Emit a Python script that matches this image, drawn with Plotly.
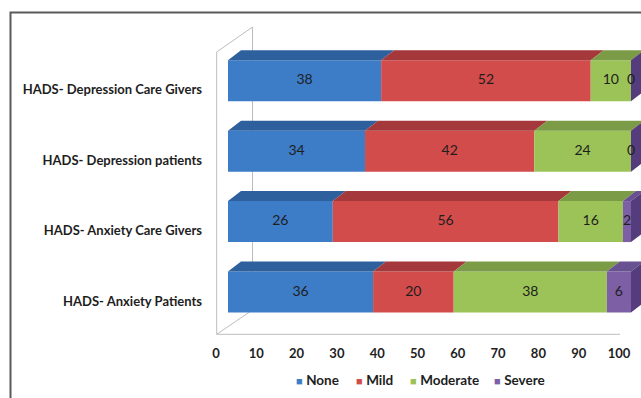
import plotly.graph_objects as go

# Categories listed bottom to top
categories = [
    "HADS- Anxiety Patients",
    "HADS- Anxiety Care Givers",
    "HADS- Depression patients",
    "HADS- Depression Care Givers",
]
series_names = ["None", "Mild", "Moderate", "Severe"]
none_vals = [36, 26, 34, 38]
mild_vals = [20, 56, 42, 52]
moderate_vals = [38, 16, 24, 10]
severe_vals = [6, 2, 0, 0]
x_ticks = [0, 10, 20, 30, 40, 50, 60, 70, 80, 90, 100]

front_colors = ["#3D7CC6", "#D24C4B", "#9CC357", "#7D5FA6"]
top_colors = ["#2F609E", "#A5383A", "#7B9B47", "#685191"]
side_color = "#553D7D"

W, H = 641, 398
# pixel geometry of the plotting area
X0_PX, X_SCALE = 228.0, 4.03        # px of value 0 and px per unit on the bar front plane
Y0_PX, Y_STEP = 292.0, 70.43        # px of first category centre, px between categories
DOM_LEFT_PX, TOP_PX, BOTTOM_PX = 206.0, 12.0, 335.0

def vx(px):
    return (px - X0_PX) / X_SCALE

def vy(py):
    return (Y0_PX - py) / Y_STEP

BAR_W = 41.0 / Y_STEP
DX = 13.0 / X_SCALE     # oblique depth offset of bar tops / sides
DY = 10.0 / Y_STEP

series = [none_vals, mild_vals, moderate_vals, severe_vals]
ypos = list(range(len(categories)))

fig = go.Figure()

# front faces of the stacked bars
bases = [0] * len(categories)
seg_bounds = []
for name, vals, col in zip(series_names, series, front_colors):
    fig.add_trace(go.Bar(
        y=ypos, x=vals, base=list(bases), orientation="h", width=BAR_W,
        marker=dict(color=col, line=dict(width=0)), name=name,
        showlegend=False, hoverinfo="skip",
    ))
    seg_bounds.append([(b, b + v) for b, v in zip(bases, vals)])
    bases = [b + v for b, v in zip(bases, vals)]

# top faces of each segment
for k, col in enumerate(top_colors):
    xs, ys = [], []
    for i, (a, b) in enumerate(seg_bounds[k]):
        if b <= a:
            continue
        t = i + BAR_W / 2
        xs += [a, b, b + DX, a + DX, a, None]
        ys += [t, t, t + DY, t + DY, t, None]
    fig.add_trace(go.Scatter(x=xs, y=ys, mode="lines", fill="toself",
                             fillcolor=col, line=dict(width=0, color=col),
                             showlegend=False, hoverinfo="skip"))

# right-hand side face at the end of each bar
xs, ys = [], []
for i, total in enumerate(bases):
    t, b = i + BAR_W / 2, i - BAR_W / 2
    xs += [total, total + DX, total + DX, total, total, None]
    ys += [t, t + DY, b + DY, b, t, None]
fig.add_trace(go.Scatter(x=xs, y=ys, mode="lines", fill="toself",
                         fillcolor=side_color, line=dict(width=0, color=side_color),
                         showlegend=False, hoverinfo="skip"))

# value labels centred on each segment's front face
lx, ly, lt = [], [], []
for k, vals in enumerate(series):
    for i, (a, b) in enumerate(seg_bounds[k]):
        lx.append((a + b) / 2)
        ly.append(i)
        lt.append(str(vals[i]))
fig.add_trace(go.Scatter(x=lx, y=ly, text=lt, mode="text",
                         textfont=dict(family="Lato", size=14, color="#1E1E1E"),
                         showlegend=False, hoverinfo="skip"))

# back wall / floor outline of the 3D frame
wall = dict(color="#BDBDBD", width=1)
fx, bx = vx(216.7), vx(252.5)
fy_bottom, by_bottom = vy(334.3), vy(310.0)
fy_top, by_top = vy(52.0), vy(27.0)
shapes = [
    dict(type="line", xref="x", yref="y", x0=fx, y0=fy_bottom, x1=fx, y1=fy_top, line=wall, layer="below"),
    dict(type="line", xref="x", yref="y", x0=fx, y0=fy_top, x1=bx, y1=by_top, line=wall, layer="below"),
    dict(type="line", xref="x", yref="y", x0=bx, y0=by_top, x1=bx, y1=by_bottom, line=wall, layer="below"),
    dict(type="line", xref="x", yref="y", x0=fx, y0=fy_bottom, x1=bx, y1=by_bottom, line=wall, layer="below"),
    dict(type="line", xref="x", yref="y", x0=fx, y0=fy_bottom, x1=vx(620.0), y1=fy_bottom, line=wall, layer="below"),
    # outer frame
    dict(type="rect", xref="paper", yref="paper", x0=10.5 / W, y0=-0.05, x1=1.05, y1=1 - 12.5 / H,
         line=dict(color="#5A5A5A", width=2), layer="below"),
]

# legend row
legend_x_px = [294, 354, 408, 492]
annotations = []
for name, col, px in zip(series_names, front_colors, legend_x_px):
    annotations.append(dict(
        xref="paper", yref="paper", x=px / W, y=1 - 380 / H, xanchor="left", yanchor="middle",
        showarrow=False,
        text=f"<span style='color:{col};font-size:11px'>■</span> <b>{name}</b>",
        font=dict(family="Lato", size=13.5, color="#1E1E1E"),
    ))

fig.update_layout(
    width=W, height=H,
    margin=dict(l=0, r=0, t=0, b=0),
    paper_bgcolor="white", plot_bgcolor="rgba(0,0,0,0)",
    barmode="overlay", showlegend=False,
    shapes=shapes, annotations=annotations,
    xaxis=dict(
        domain=[DOM_LEFT_PX / W, 1], range=[vx(DOM_LEFT_PX), vx(W)],
        tickmode="array", tickvals=x_ticks, ticktext=[f"<b>{t}</b>" for t in x_ticks],
        ticks="", showgrid=False, zeroline=False, showline=False,
        ticklabelshift=-12, ticklabelstandoff=9,
        tickfont=dict(family="Lato", size=13, color="#1E1E1E"),
    ),
    yaxis=dict(
        domain=[1 - BOTTOM_PX / H, 1 - TOP_PX / H], range=[vy(BOTTOM_PX), vy(TOP_PX)],
        tickmode="array", tickvals=ypos, ticktext=[f"<b>{c}</b>" for c in categories],
        ticks="", showgrid=False, zeroline=False, showline=False,
        ticklabelshift=9, ticklabelstandoff=3,
        tickfont=dict(family="Lato", size=13, color="#1E1E1E"),
    ),
)

fig.write_html("out.html")
